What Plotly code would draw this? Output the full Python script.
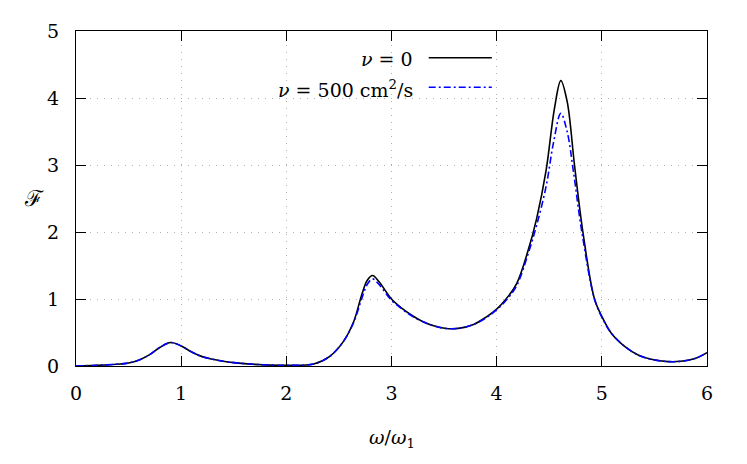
import plotly.graph_objects as go

# omega / omega_1 sample positions and F values
x_nu0 = [0.0, 0.2, 0.42, 0.5, 0.6, 0.7, 0.8, 0.9, 1.0, 1.1, 1.2, 1.3, 1.4, 1.5, 1.7, 2.0,
         2.26, 2.41, 2.54, 2.64, 2.72, 2.77, 2.82, 2.88, 3.0, 3.1, 3.2, 3.3, 3.4, 3.52, 3.65, 3.78,
         3.9, 4.0, 4.09, 4.19, 4.3, 4.38, 4.47, 4.55, 4.61, 4.67, 4.74, 4.82, 4.93, 5.0,
         5.09, 5.22, 5.35, 5.47, 5.63, 5.75, 5.9, 6.0]
y_nu0 = [0.0, 0.01, 0.03, 0.045, 0.09, 0.17, 0.28, 0.35, 0.30, 0.21, 0.14, 0.10, 0.07, 0.05, 0.025, 0.01,
         0.03, 0.14, 0.36, 0.66, 1.08, 1.28, 1.35, 1.26, 1.0, 0.86, 0.75, 0.66, 0.60, 0.56, 0.565, 0.62,
         0.73, 0.85, 1.0, 1.23, 1.73, 2.2, 2.92, 3.85, 4.26, 3.95, 3.0, 2.0, 1.0, 0.74,
         0.49, 0.29, 0.16, 0.10, 0.065, 0.07, 0.12, 0.20]

x_nu500 = [0.0, 0.2, 0.42, 0.5, 0.6, 0.7, 0.8, 0.9, 1.0, 1.1, 1.2, 1.3, 1.4, 1.5, 1.7, 2.0,
           2.26, 2.41, 2.54, 2.64, 2.72, 2.77, 2.82, 2.88, 3.0, 3.1, 3.2, 3.3, 3.4, 3.52, 3.65, 3.78,
           3.9, 4.0, 4.09, 4.19, 4.3, 4.38, 4.47, 4.54, 4.61, 4.67, 4.73, 4.81, 4.93, 5.0,
           5.09, 5.22, 5.35, 5.47, 5.63, 5.75, 5.9, 6.0]
y_nu500 = [0.0, 0.01, 0.03, 0.045, 0.09, 0.17, 0.28, 0.35, 0.30, 0.21, 0.14, 0.10, 0.07, 0.05, 0.025, 0.01,
           0.03, 0.14, 0.36, 0.65, 1.02, 1.22, 1.30, 1.22, 0.98, 0.85, 0.74, 0.66, 0.60, 0.56, 0.565, 0.62,
           0.72, 0.84, 0.98, 1.2, 1.68, 2.1, 2.68, 3.33, 3.77, 3.5, 2.9, 2.0, 1.0, 0.73,
           0.49, 0.29, 0.16, 0.10, 0.065, 0.07, 0.12, 0.20]

x_ticks = [0, 1, 2, 3, 4, 5, 6]
y_ticks = [0, 1, 2, 3, 4, 5]
legend_labels = ["<i>ν</i> = 0", "<i>ν</i> = 500 cm<sup>2</sup>/s"]

FONT = "DejaVu Serif"
FS = 19

fig = go.Figure()
fig.add_trace(go.Scatter(x=x_nu0, y=y_nu0, mode="lines",
                         line=dict(color="black", width=1.6, shape="spline", smoothing=1.0),
                         name=legend_labels[0], showlegend=False))
fig.add_trace(go.Scatter(x=x_nu500, y=y_nu500, mode="lines",
                         line=dict(color="#0000ff", width=1.6, dash="7px,3px,2px,3px", shape="spline", smoothing=1.0),
                         name=legend_labels[1], showlegend=False))

axis_common = dict(
    showline=True, linecolor="black", linewidth=1.2, mirror="ticks",
    ticks="inside", ticklen=10, tickcolor="black", tickwidth=1,
    showgrid=True, gridcolor="#b0b0b0", griddash="1px,6px", gridwidth=1,
    zeroline=False, automargin=False,
    tickfont=dict(family=FONT, size=FS, color="black"),
)

fig.update_xaxes(range=[0, 6], tickvals=x_ticks, ticklabelstandoff=10, **axis_common)
fig.update_yaxes(range=[0, 5], tickvals=y_ticks, ticklabelstandoff=12, **axis_common)

# legend: text on the left, line sample on the right
leg_y = [0.916, 0.828]
styles = [dict(color="black", width=1.6), dict(color="#0000ff", width=1.6, dash="7px,3px,2px,3px")]
for lab, yy, st in zip(legend_labels, leg_y, styles):
    fig.add_annotation(text=lab, xref="paper", yref="paper", x=0.537, y=yy, xanchor="right", yanchor="middle",
                       showarrow=False, font=dict(family=FONT, size=FS, color="black"))
    fig.add_shape(type="line", xref="paper", yref="paper", x0=0.559, x1=0.659, y0=yy + 0.004, y1=yy + 0.004, line=st)

fig.add_annotation(text="<i>ω</i>/<i>ω</i><sub>1</sub>", xref="paper", yref="paper", x=0.5, y=-0.215,
                   xanchor="center", yanchor="middle", showarrow=False, font=dict(family=FONT, size=FS, color="black"))
fig.add_annotation(text="ℱ", xref="paper", yref="paper", x=-0.066, y=0.5,
                   xanchor="center", yanchor="middle", showarrow=False, font=dict(family=FONT, size=22, color="black"))

# page body has an 8px default margin, so shift the figure margins by 8px
fig.update_layout(width=747, height=464, margin=dict(l=68, r=48, t=23, b=106),
                  plot_bgcolor="white", paper_bgcolor="white", showlegend=False)

fig.write_html("out.html")
